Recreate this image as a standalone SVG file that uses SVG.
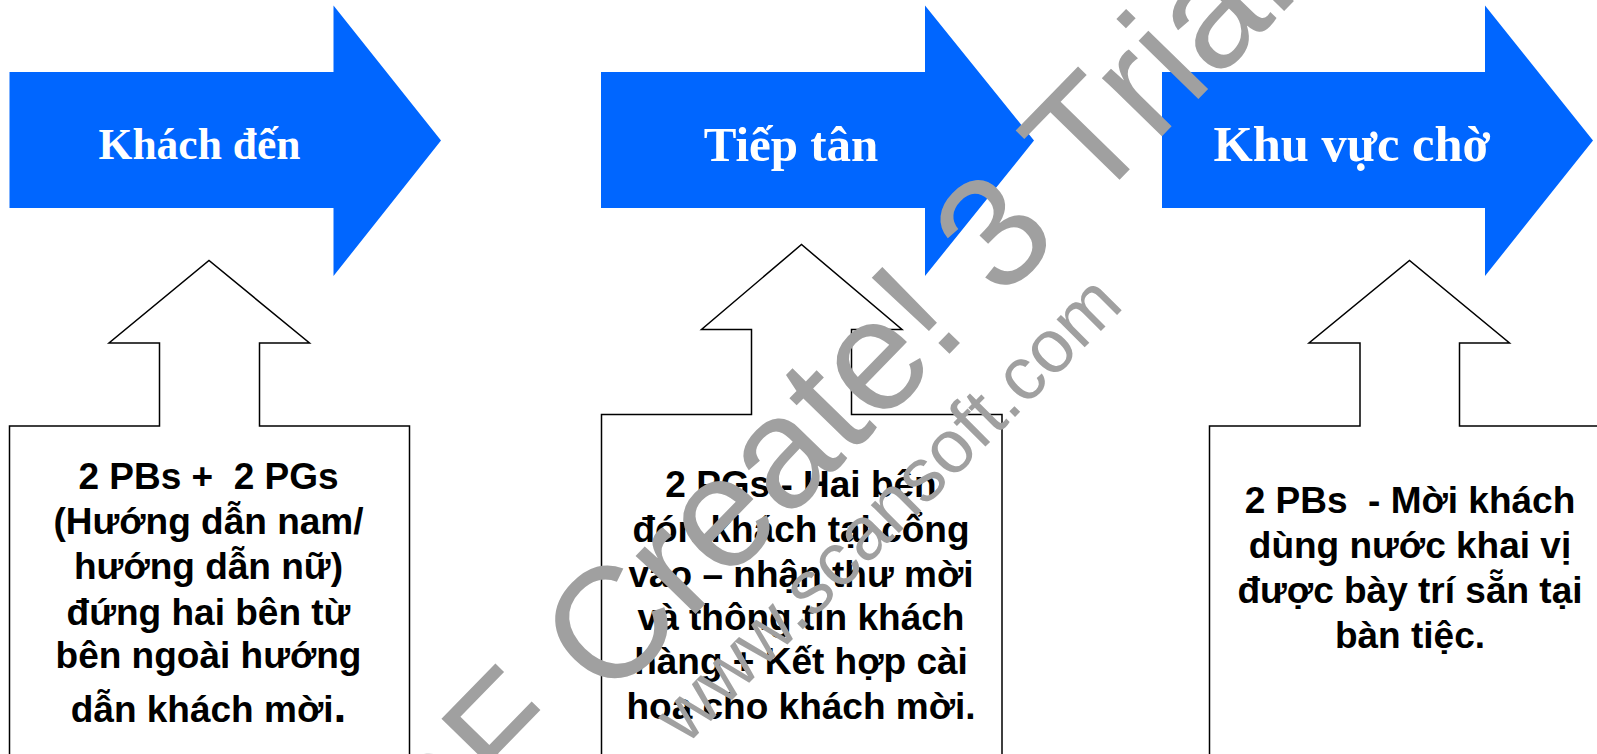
<svg xmlns="http://www.w3.org/2000/svg" width="1597" height="754" viewBox="0 0 1597 754">
<style>
.a{fill:#0066ff}
.t{font-family:"Liberation Serif",serif;font-weight:bold;fill:#fff;text-anchor:middle}
.u{fill:#fff;stroke:#000;stroke-width:1.5}
.b{font-family:"Liberation Sans",Arial,sans-serif;font-weight:bold;font-size:37px;fill:#000;text-anchor:middle;white-space:pre}
.w{font-family:"Liberation Sans",Arial,sans-serif;fill:#a0a0a0}
</style>
<rect width="1597" height="754" fill="#fff"/>
<g id="step1"><polygon class="a" points="9.5,72 333.5,72 333.5,5.5 441,140.5 333.5,276 333.5,208 9.5,208"/><text class="t" font-size="43.500" x="199.500" y="159">Khách đến</text></g>
<g id="step2"><polygon class="a" points="601,72 925,72 925,5.5 1034,140.5 925,276 925,208 601,208"/><text class="t" font-size="49" x="791" y="161">Tiếp tân</text></g>
<g id="step3"><polygon class="a" points="1162,72 1485,72 1485,5.5 1593,140.5 1485,276 1485,208 1162,208"/><text class="t" font-size="50.500" x="1352" y="161">Khu vực chờ</text></g>
<g id="note1"><polygon class="u" points="9.5,426 159.5,426 159.5,343 109,343 209,260.500 309.500,343 259.500,343 259.500,426 409.500,426 409.500,760 9.500,760"/>
<text class="b"><tspan x="208.500" y="489">2 PBs +  2 PGs</tspan><tspan x="208.500" y="534">(Hướng dẫn nam/</tspan><tspan x="208.500" y="579">hướng dẫn nữ)</tspan><tspan x="208.500" y="625">đứng hai bên từ</tspan><tspan x="208.500" y="668">bên ngoài hướng</tspan><tspan x="208.500" y="722">dẫn khách mời<tspan font-size="46">.</tspan></tspan></text></g>
<g id="note2"><polygon class="u" points="601.500,414.500 751.500,414.500 751.500,329.500 701.500,329.500 801.500,244.500 902,329.500 851.500,329.500 851.500,414.500 1002,414.500 1002,760 601.500,760"/>
<text class="b"><tspan x="801" y="497">2 PGs - Hai bên</tspan><tspan x="801" y="542">đón khách tại cổng</tspan><tspan x="801" y="587">vào – nhận thư mời</tspan><tspan x="801" y="630">và thông tin khách</tspan><tspan x="801" y="674">hàng + Kết hợp cài</tspan><tspan x="801" y="719">hoa cho khách mời.</tspan></text></g>
<g id="note3"><polygon class="u" points="1209.500,426 1360,426 1360,343 1309,343 1409.500,260.500 1509.500,343 1459.500,343 1459.500,426 1610,426 1610,760 1209.500,760"/>
<text class="b"><tspan x="1410" y="513">2 PBs  - Mời khách</tspan><tspan x="1410" y="558">dùng nước khai vị</tspan><tspan x="1410" y="603">được bày trí sẵn tại</tspan><tspan x="1410" y="648">bàn tiệc.</tspan></text></g>
<g id="connectors"></g>
<g id="watermark">
<text class="w" font-size="158" transform="translate(357,961) rotate(-45.700)">PDF Create! 3 Trial</text>
<text class="w" font-size="75" transform="translate(686,746) rotate(-45)">www.scansoft.com</text>
</g>
</svg>
